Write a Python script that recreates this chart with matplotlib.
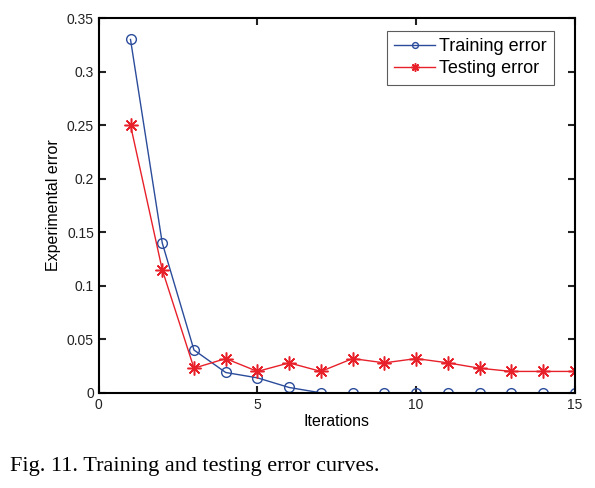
import matplotlib
matplotlib.use('Agg')
import matplotlib.pyplot as plt
import numpy as np

# data
iterations = np.arange(1, 16)
train_err = [0.33, 0.14, 0.04, 0.019, 0.014, 0.005, 0, 0, 0, 0, 0, 0, 0, 0, 0]
test_err = [0.25, 0.115, 0.023, 0.032, 0.02, 0.028, 0.02, 0.032, 0.028, 0.032,
            0.028, 0.023, 0.02, 0.02, 0.02]

plt.rcParams['font.family'] = 'Liberation Sans'

fig = plt.figure(figsize=(5.95, 4.88), dpi=100)
ax = fig.add_axes([0.166, 0.195, 0.80, 0.768])

ax.plot(iterations, train_err, color='#2B4C9B', marker='o', markersize=7,
        markerfacecolor='none', linewidth=1, label='Training error')
ax.plot(iterations, test_err, color='#E8202A', marker=(8, 2, 0), markersize=10,
        markeredgewidth=1.1, linewidth=1, label='Testing error')

ax.set_xlim(0, 15)
ax.set_ylim(0, 0.35)
ax.set_xticks([0, 5, 10, 15])
ax.set_yticks(np.arange(0, 0.351, 0.05))
ax.set_yticklabels(['0', '0.05', '0.1', '0.15', '0.2', '0.25', '0.3', '0.35'])
ax.tick_params(direction='in', top=True, right=True, labelsize=10, length=5,
               width=1.5, colors='#222222')
for s in ax.spines.values():
    s.set_linewidth(1.5)

ax.set_xlabel('Iterations', fontsize=11.5, labelpad=2)
ax.set_ylabel('Experimental error', fontsize=11.5, labelpad=4)

leg = ax.legend(loc='upper right', fontsize=13, fancybox=False, edgecolor='#333333',
                handlelength=2.3, borderpad=0.4, labelspacing=0.3, handletextpad=0.2,
                markerscale=0.6, bbox_to_anchor=(0.975, 0.99))
leg.get_frame().set_linewidth(0.8)

fig.text(0.017, 0.035, 'Fig. 11. Training and testing error curves.',
         fontsize=16, family='Liberation Serif')

fig.savefig('out.png', dpi=100)
